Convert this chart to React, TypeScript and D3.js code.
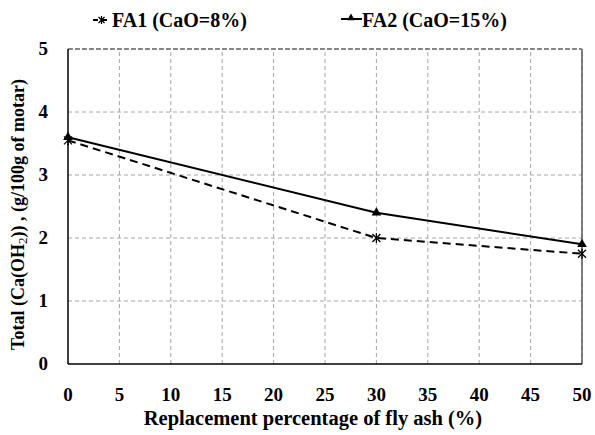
import React from 'react';
import * as d3 from 'd3';

const replacement = [0, 30, 50];
const fa1Values = [3.55, 2.0, 1.75];
const fa2Values = [3.6, 2.4, 1.9];
const xTicks = [0, 5, 10, 15, 20, 25, 30, 35, 40, 45, 50];
const yTicks = [0, 1, 2, 3, 4, 5];
const seriesNames = ['FA1 (CaO=8%)', 'FA2 (CaO=15%)'];

const width = 595;
const height = 435;
const margin = { top: 49, right: 13, bottom: 71, left: 68 };
const font = "Liberation Serif, DejaVu Serif, Tinos, Times New Roman, serif";
const txt: React.CSSProperties = { fontFamily: font, fontWeight: 700 };

const App: React.FC = () => {
  const x = d3.scaleLinear().domain([0, 50]).range([margin.left, width - margin.right]);
  const y = d3.scaleLinear().domain([0, 5]).range([height - margin.bottom, margin.top]);

  const line = d3.line<[number, number]>().x(d => x(d[0])).y(d => y(d[1]));
  const fa1 = replacement.map((r, i) => [r, fa1Values[i]] as [number, number]);
  const fa2 = replacement.map((r, i) => [r, fa2Values[i]] as [number, number]);

  const star = (cx: number, cy: number, k: string, s = 4) => (
    <g key={k} stroke="#000" strokeWidth={1.3}>
      <line x1={cx - s} y1={cy - s} x2={cx + s} y2={cy + s} />
      <line x1={cx - s} y1={cy + s} x2={cx + s} y2={cy - s} />
      <line x1={cx} y1={cy - s - 1} x2={cx} y2={cy + s + 1} />
    </g>
  );
  const tri = d3.symbol().type(d3.symbolTriangle).size(40)();

  const x0 = x(0), x1 = x(50), y0 = y(0), y1 = y(5);

  return (
    <svg width={width} height={height} style={{ position: 'absolute', left: 0, top: 0, background: '#fff' }}>
      <rect width={width} height={height} fill="#fff" />
      {/* grid */}
      {xTicks.slice(1).map(t => (
        <line key={'gx' + t} x1={x(t)} x2={x(t)} y1={y0} y2={y1} stroke="#a6a6a6" strokeDasharray="4,3" />
      ))}
      {yTicks.slice(1).map(t => (
        <line key={'gy' + t} x1={x0} x2={x1} y1={y(t)} y2={y(t)} stroke="#a6a6a6" strokeDasharray="4,3" />
      ))}
      <line x1={x0} x2={x1} y1={y1} y2={y1} stroke="#6e6e6e" strokeWidth={1.5} strokeDasharray="5,2" />
      <line x1={x1} x2={x1} y1={y1} y2={y0} stroke="#595959" strokeWidth={1.5} />
      {/* axes */}
      <line x1={x0} x2={x0} y1={y1} y2={y0} stroke="#000" strokeWidth={1.5} />
      <line x1={x0} x2={x1} y1={y0} y2={y0} stroke="#000" strokeWidth={1.5} />

      {/* series */}
      <path d={line(fa1) || ''} fill="none" stroke="#000" strokeWidth={2} strokeDasharray="8,5" />
      <path d={line(fa2) || ''} fill="none" stroke="#000" strokeWidth={2} />
      {fa1.map((d, i) => star(x(d[0]), y(d[1]), 's' + i))}
      {fa2.map((d, i) => (
        <path key={'t' + i} d={tri || ''} transform={`translate(${x(d[0])},${y(d[1])})`} fill="#000" />
      ))}

      {/* tick labels */}
      <g style={{ ...txt, fontSize: 19 }} fill="#000">
        {xTicks.map(t => (
          <text key={'xt' + t} x={x(t)} y={y0 + 37} textAnchor="middle">{t}</text>
        ))}
        {yTicks.map(t => (
          <text key={'yt' + t} x={x0 - 20} y={y(t) + 6} textAnchor="end">{t}</text>
        ))}
      </g>

      {/* axis titles */}
      <text x={(x0 + x1) / 2 - 12} y={y0 + 61} textAnchor="middle" style={{ ...txt, fontSize: 20.5 }}>
        Replacement percentage of fly ash (%)
      </text>
      <text transform={`translate(24,${(y0 + y1) / 2 + 8}) rotate(-90)`} textAnchor="middle" style={{ ...txt, fontSize: 18 }}>
        Total (Ca(OH<tspan style={{ fontSize: 13, fontWeight: 400 }} dy={3}>2</tspan><tspan dy={-3}>)) , (g/100g of motar)</tspan>
      </text>

      {/* legend */}
      <g style={{ ...txt, fontSize: 20 }}>
        <line x1={93} x2={110} y1={20} y2={20} stroke="#000" strokeWidth={2} strokeDasharray="5,4" />
        {star(101.5, 20, 'ls', 3)}
        <text x={112} y={27}>{seriesNames[0]}</text>
        <line x1={341} x2={362} y1={19} y2={19} stroke="#000" strokeWidth={2} />
        <path d={d3.symbol().type(d3.symbolTriangle).size(25)() || ''} transform="translate(351,18)" fill="#000" />
        <text x={362} y={27}>{seriesNames[1]}</text>
      </g>
    </svg>
  );
};

export default App;
